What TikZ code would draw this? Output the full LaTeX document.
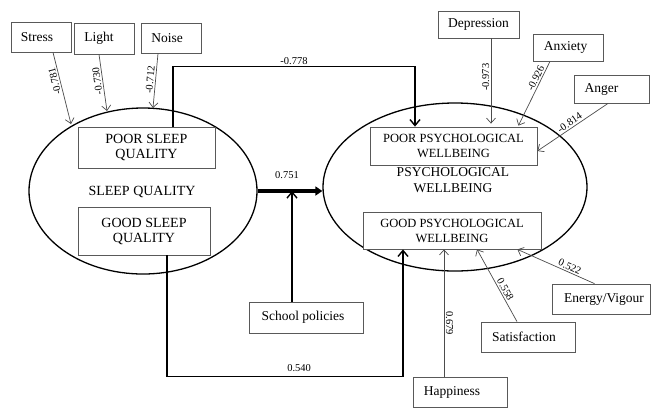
\documentclass[tikz,border=0pt]{standalone}
\usepackage{fontspec}
\setmainfont{Liberation Serif}
\usetikzlibrary{shapes.geometric,arrows.meta,calc}
\begin{document}
\begin{tikzpicture}[x=1pt,y=-1pt,
  box/.style={draw=black!65, line width=0.8pt, fill=white, inner sep=0pt, align=center, font=\fontsize{13.5}{15}\selectfont},
  bigbox/.style={box, font=\fontsize{14}{15}\selectfont},
  psybox/.style={box, font=\fontsize{12.5}{15}\selectfont},
  ell/.style={draw=black, ellipse, line width=1.3pt, inner sep=0pt},
  ind/.style={draw=black!70, line width=0.7pt, -{Straight Barb[length=5pt,width=9pt]}},
  mainc/.style={draw=black, line width=1.4pt, -{Straight Barb[length=6pt,width=10pt]}},
  lbl/.style={font=\fontsize{10.5}{12}\selectfont, inner sep=1.5pt}
]
\useasboundingbox (0,0) rectangle (651,408);
\fill[white] (0,0) rectangle (651,408);

% ellipses
\node[ell, minimum width=228pt, minimum height=166pt] (sq) at (143,191) {};
\node[ell, minimum width=264pt, minimum height=168pt] (pw) at (455,187) {};
\node[font=\fontsize{14}{15}\selectfont] (sqt) at (142,192) {SLEEP QUALITY};
\node[align=center, font=\fontsize{13.5}{16}\selectfont, inner sep=0pt] (pwt) at (453,180) {PSYCHOLOGICAL\\WELLBEING};

% inner boxes
\node[bigbox, minimum width=137pt, minimum height=41pt] (psb) at (146.5,147.5) {POOR SLEEP\\QUALITY};
\node[bigbox, minimum width=132pt, minimum height=48pt] (gsb) at (144,231) {GOOD SLEEP\\QUALITY};
\node[psybox, minimum width=167pt, minimum height=38pt] (ppw) at (453.5,146) {POOR PSYCHOLOGICAL\\WELLBEING};
\node[psybox, minimum width=178pt, minimum height=37pt] (gpw) at (452,230.5) {GOOD PSYCHOLOGICAL\\WELLBEING};

% indicator boxes
\node[box, minimum width=60pt, minimum height=30pt] (stress) at (41,37) {Stress\hspace{8pt}};
\node[box, minimum width=60pt, minimum height=31pt] (light) at (104,38.5) {Light\hspace{10pt}};
\node[box, minimum width=60pt, minimum height=30pt] (noise) at (171,38) {Noise\hspace{8pt}};
\node[box, minimum width=81pt, minimum height=27pt] (dep) at (478.5,24.5) {Depression};
\node[box, minimum width=70pt, minimum height=27pt] (anx) at (568,47.5) {Anxiety\hspace{5pt}};
\node[box, minimum width=75pt, minimum height=28pt] (ang) at (611.5,89) {Anger\hspace{20pt}};
\node[box, minimum width=98pt, minimum height=30pt] (en) at (601,299) {\hspace{6pt}Energy/Vigour};
\node[box, minimum width=94pt, minimum height=30pt] (sat) at (528,337) {Satisfaction\hspace{8pt}};
\node[box, minimum width=94pt, minimum height=30pt] (hap) at (460,392) {Happiness\hspace{16pt}};
\node[box, minimum width=114pt, minimum height=31pt] (sp) at (306,317.5) {School policies\hspace{6pt}};

% end points on the left ellipse
\coordinate (t1) at (71,124);
\coordinate (t2) at (107,111);
\coordinate (t3) at (153,108);

% left indicators
\draw[ind] ([xshift=12pt]stress.south) -- (t1) node[lbl, pos=0.39, rotate=104, anchor=south] (l1) {-0.781};
\draw[ind] ([xshift=-5pt]light.south) -- (t2) node[lbl, pos=0.46, rotate=98, anchor=south] (l2) {-0.730};
\draw[ind] ([xshift=-13pt]noise.south) -- (t3) node[lbl, pos=0.49, rotate=85, anchor=south] (l3) {-0.712};

% right top indicators
\draw[ind, shorten >=3pt] ([xshift=12.5pt]dep.south) -- ([xshift=12.5pt]dep.south |- ppw.north) node[lbl, pos=0.44, rotate=90, anchor=south] (l4) {-0.973};
\draw[ind] ([xshift=-18pt]anx.south) -- ([xshift=-19pt,yshift=1pt]ppw.north east) node[lbl, pos=0.3, rotate=64, anchor=south] (l5) {-0.926};
\draw[ind] ([xshift=-3.5pt]ang.south) -- ([yshift=-5pt]ppw.east) node[lbl, pos=0.5, rotate=34, anchor=south] (l6) {-0.814};

% right bottom indicators
\draw[ind] ([xshift=-16pt]hap.north) -- ([xshift=-16pt]hap.north |- gpw.south) node[lbl, pos=0.42, rotate=-90, anchor=south] (l7) {0.679};
\draw[ind] ([xshift=-11pt]sat.north) -- ([xshift=25pt]gpw.south) node[lbl, pos=0.41, rotate=-61, anchor=south] (l8) {0.558};
\draw[ind] ([xshift=-6.5pt]en.north) -- ([xshift=-24pt]gpw.south east) node[lbl, pos=0.35, rotate=-25, anchor=south] (l9) {0.522};

% main paths
\draw[mainc] ([xshift=26.5pt]psb.north) -- ++(0,-60) -| ([xshift=-38.5pt]ppw.north) node[lbl, pos=0.25, above] (l10) {-0.778};
\draw[mainc] ([xshift=23pt]gsb.south) -- ++(0,121) -| ([xshift=-49pt]gpw.south) node[lbl, pos=0.28, above=3pt] (l11) {0.540};
\draw[line width=4pt, -{Triangle[length=7pt,width=9pt]}] (sq.east) -- (sq.east -| pw.west) node[lbl, midway, above=9pt, xshift=-3pt] (l12) {0.751};
\draw[mainc] ([xshift=-14pt]sp.north) -- ([xshift=-14pt]sp.north |- sq.east);
\end{tikzpicture}
\end{document}
